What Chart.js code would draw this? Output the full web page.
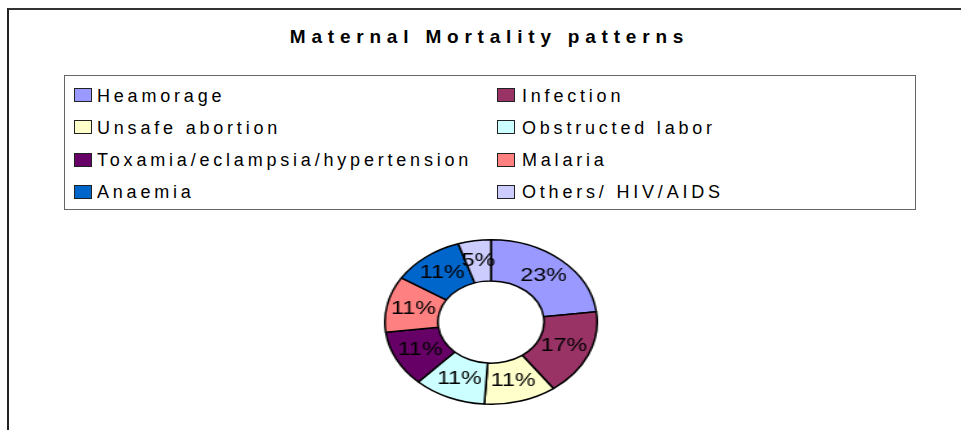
<!DOCTYPE html>
<html>
<head>
<meta charset="utf-8">
<script src="https://cdn.jsdelivr.net/npm/chart.js@4.4.1/dist/chart.umd.min.js"></script>
<style>
  html, body { margin: 0; padding: 0; background: #fff; }
  body { width: 961px; height: 430px; position: relative; overflow: hidden; font-family: Arial, "Liberation Sans", sans-serif; }
  #frame { position: absolute; left: 7px; top: 8px; width: 1000px; height: 500px; border-top: 2px solid #333; border-left: 2px solid #222; }
  #titulo { position: absolute; left: 0; width: 961px; top: 27px; text-align: center; font-size: 19px; line-height: 19px; font-weight: bold; letter-spacing: 5.8px; padding-left: 18px; box-sizing: border-box; color: #000; }
  #legenda { position: absolute; left: 64px; top: 75px; width: 852px; height: 135px; border: 1px solid #666; box-sizing: border-box; }
  .item { position: absolute; font-size: 18px; line-height: 18px; letter-spacing: 3.8px; color: #000; white-space: nowrap; }
  .caixa { position: absolute; width: 18px; height: 14px; border: 1.5px solid #222; box-sizing: border-box; }
  #donut { position: absolute; left: 407px; top: 238px; width: 168px; height: 168px; transform: scaleX(1.29); transform-origin: 50% 50%; }
</style>
</head>
<body>
<div id="frame"></div>
<div id="titulo">Maternal Mortality patterns</div>
<div id="legenda"></div>
<div id="donut"><canvas id="grafico" width="168" height="168"></canvas></div>
<script>
// dados do grafico
const categorias = ['Heamorage', 'Infection', 'Unsafe abortion', 'Obstructed labor',
    'Toxamia/eclampsia/hypertension', 'Malaria', 'Anaemia', 'Others/ HIV/AIDS'];
const valores = [23, 17, 11, 11, 11, 11, 11, 5];
const cores = ['#9999FF', '#993366', '#FFFFCC', '#CCFFFF', '#660066', '#FF8080', '#0066CC', '#CCCCFF'];

// legenda em duas colunas
const legenda = document.getElementById('legenda');
categorias.forEach((nome, i) => {
    const col = i % 2;
    const row = Math.floor(i / 2);
    const base = 101 - 75 + row * 32.3; // linha de base relativa a caixa
    const sw = document.createElement('span');
    sw.className = 'caixa';
    sw.style.left = (col === 0 ? 9 : 432) + 'px';
    sw.style.top = (base - 14) + 'px';
    sw.style.background = cores[i];
    legenda.appendChild(sw);
    const txt = document.createElement('span');
    txt.className = 'item';
    txt.textContent = nome;
    txt.style.left = (col === 0 ? 32 : 457) + 'px';
    txt.style.top = (base - 15.5) + 'px';
    legenda.appendChild(txt);
});

// porcentagens dentro das fatias
const rotulos = {
    id: 'rotulos',
    afterDatasetsDraw(chart) {
        const ctx = chart.ctx;
        const meta = chart.getDatasetMeta(0);
        ctx.save();
        ctx.fillStyle = '#000';
        ctx.font = '18px Arial, "Liberation Sans", sans-serif';
        ctx.textAlign = 'center';
        ctx.textBaseline = 'middle';
        meta.data.forEach((arc, i) => {
            const p = arc.tooltipPosition();
            ctx.fillText(valores[i] + '%', p.x, p.y);
        });
        ctx.restore();
    }
};

const config = {
    type: 'doughnut',
    data: {
        labels: categorias,
        datasets: [{
            data: valores,
            backgroundColor: cores,
            borderColor: '#000',
            borderWidth: 1.5
        }]
    },
    options: {
        responsive: false,
        animation: false,
        cutout: '50%',
        events: [],
        layout: { padding: 1 },
        plugins: {
            legend: { display: false },
            tooltip: { enabled: false },
            title: { display: false }
        }
    },
    plugins: [rotulos]
};

new Chart(document.getElementById('grafico').getContext('2d'), config);
</script>
</body>
</html>
